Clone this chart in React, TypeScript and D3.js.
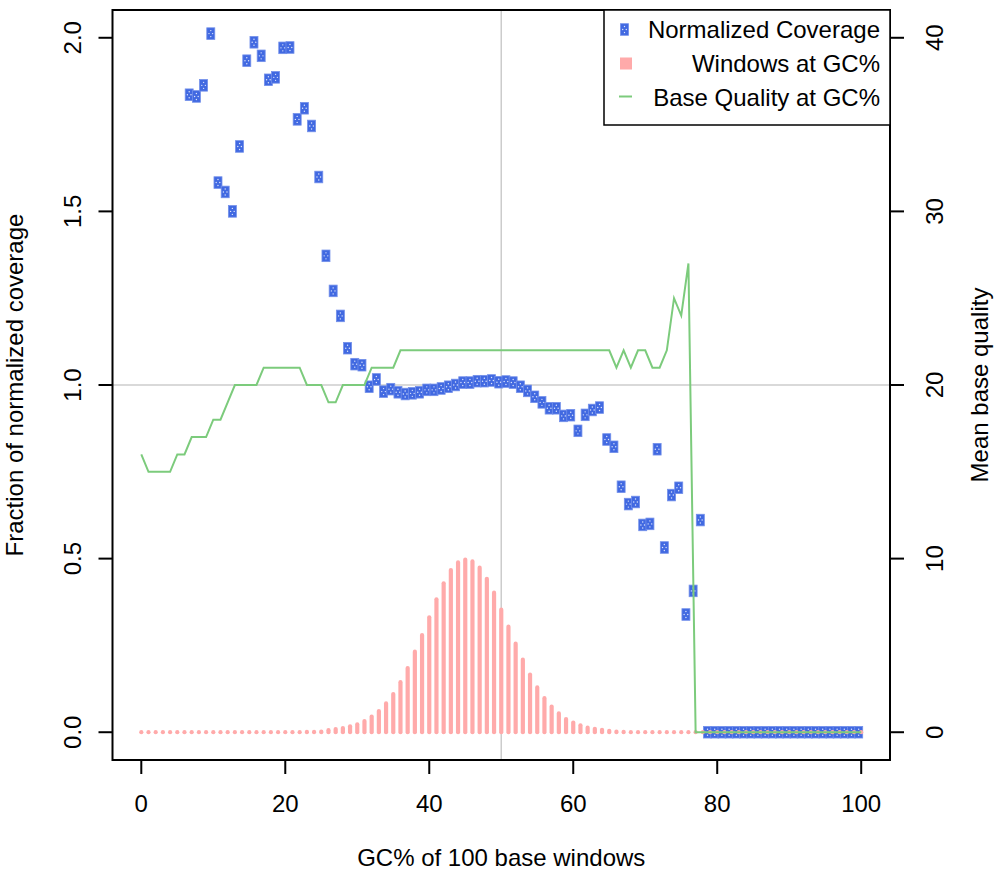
import * as d3 from 'd3';

// GC% bins, 0..100
const gcPercent = [
  0, 1, 2, 3, 4, 5, 6, 7, 8, 9, 10, 11, 12, 13, 14, 15, 16, 17, 18, 19, 20,
  21, 22, 23, 24, 25, 26, 27, 28, 29, 30, 31, 32, 33, 34, 35, 36, 37, 38, 39, 40,
  41, 42, 43, 44, 45, 46, 47, 48, 49, 50, 51, 52, 53, 54, 55, 56, 57, 58, 59, 60,
  61, 62, 63, 64, 65, 66, 67, 68, 69, 70, 71, 72, 73, 74, 75, 76, 77, 78, 79, 80,
  81, 82, 83, 84, 85, 86, 87, 88, 89, 90, 91, 92, 93, 94, 95, 96, 97, 98, 99, 100,
];

// null = no point drawn
const normalizedCoverage = [
  null, null, null, null, null, null, null, 1.836, 1.831, 1.863, 2.012,
  1.583, 1.556, 1.5, 1.687, 1.934, 1.987, 1.948, 1.879, 1.886, 1.971,
  1.972, 1.765, 1.797, 1.746, 1.599, 1.372, 1.271, 1.199, 1.106, 1.06,
  1.057, 0.995, 1.016, 0.981, 0.988, 0.979, 0.974, 0.976, 0.979, 0.986,
  0.986, 0.99, 0.995, 1.0, 1.007, 1.007, 1.011, 1.011, 1.013, 1.008,
  1.01, 1.007, 0.995, 0.983, 0.966, 0.95, 0.933, 0.933, 0.911, 0.913,
  0.868, 0.914, 0.928, 0.935, 0.843, 0.822, 0.707, 0.657, 0.663, 0.597,
  0.6, 0.815, 0.532, 0.683, 0.704, 0.339, 0.407, 0.611, 0, 0,
  0, 0, 0, 0, 0, 0, 0, 0, 0, 0,
  0, 0, 0, 0, 0, 0, 0, 0, 0, 0,
];

const windowsAtGc = [
  0, 0, 0, 0, 0, 0, 0, 0, 0, 0, 0,
  0, 0, 0, 0, 0, 0, 0, 0, 0, 0,
  0, 0, 0.001, 0.001, 0.002, 0.006, 0.009, 0.012, 0.017, 0.023,
  0.032, 0.045, 0.061, 0.083, 0.11, 0.144, 0.185, 0.232, 0.28, 0.331,
  0.383, 0.429, 0.467, 0.489, 0.497, 0.492, 0.474, 0.442, 0.402, 0.353,
  0.304, 0.255, 0.209, 0.166, 0.129, 0.098, 0.074, 0.054, 0.038, 0.028,
  0.02, 0.013, 0.01, 0.007, 0.004, 0.002, 0.001, 0, 0, 0,
  0, 0, 0, 0, 0, 0, 0, 0, 0, 0,
  0, 0, 0, 0, 0, 0, 0, 0, 0, 0,
  0, 0, 0, 0, 0, 0, 0, 0, 0, 0,
];

const baseQuality = [
  16, 15, 15, 15, 15, 16, 16, 17, 17, 17, 18,
  18, 19, 20, 20, 20, 20, 21, 21, 21, 21,
  21, 21, 20, 20, 20, 19, 19, 20, 20, 20,
  20, 21, 21, 21, 21, 22, 22, 22, 22, 22,
  22, 22, 22, 22, 22, 22, 22, 22, 22, 22,
  22, 22, 22, 22, 22, 22, 22, 22, 22, 22,
  22, 22, 22, 22, 22, 21, 22, 21, 22, 22,
  21, 21, 22, 25, 24, 27, 0, 0, 0, 0,
  0, 0, 0, 0, 0, 0, 0, 0, 0, 0,
  0, 0, 0, 0, 0, 0, 0, 0, 0, 0,
];

const xTicks = [0, 20, 40, 60, 80, 100];
const leftTicks = [0, 0.5, 1, 1.5, 2];
const rightTicks = [0, 10, 20, 30, 40];
const legendLabels = ['Normalized Coverage', 'Windows at GC%', 'Base Quality at GC%'];

const WIDTH = 994;
const HEIGHT = 875;
const plot = { left: 112.5, right: 890, top: 10, bottom: 760 };
const FONT = '"Liberation Sans", Arial, Helvetica, sans-serif';
const BLUE = '#4169E1';
const PINK = '#FFAAAA';
const GREEN = '#7CCB7C';
const MARK_DX = -2.5;

function Marker({ cx, cy }: { cx: number; cy: number }) {
  return (
    <g transform={`translate(${cx},${cy})`}>
      <rect x={-4} y={-5.8} width={8} height={11.6} fill={BLUE} stroke="#7390ea" strokeWidth={0.8} />
      <circle cx={0} cy={-3} r={0.7} fill="#dfe6fb" />
      <circle cx={-1.8} cy={0} r={0.7} fill="#dfe6fb" />
      <circle cx={1.8} cy={0} r={0.7} fill="#dfe6fb" />
      <circle cx={0} cy={3} r={0.7} fill="#dfe6fb" />
    </g>
  );
}

export default function App() {
  const x = d3.scaleLinear().domain([-4, 104]).range([plot.left, plot.right]);
  const y = d3.scaleLinear().domain([-0.08, 2.08]).range([plot.bottom, plot.top]);
  const yRight = d3.scaleLinear().domain([-1.6, 41.6]).range([plot.bottom, plot.top]);

  const qualityPath = d3
    .line<number>()
    .x((_, i) => x(gcPercent[i]))
    .y((q) => yRight(q))(baseQuality);

  const legendX = 604;
  const legendRows = [29.5, 63.5, 97.5];

  return (
    <svg
      width={WIDTH}
      height={HEIGHT}
      style={{ position: 'absolute', left: 0, top: 0, display: 'block', background: '#fff' }}
      fontFamily={FONT}
      fontSize={24}
    >
      {/* reference lines */}
      <line x1={x(50)} x2={x(50)} y1={plot.top} y2={plot.bottom} stroke="#cccccc" strokeWidth={1.5} />
      <line x1={plot.left} x2={plot.right} y1={y(1)} y2={y(1)} stroke="#cccccc" strokeWidth={1.5} />

      {/* normalized coverage */}
      {normalizedCoverage.map((v, i) =>
        v === null ? null : <Marker key={'p' + i} cx={x(gcPercent[i]) + MARK_DX} cy={y(v)} />
      )}

      {/* windows at GC */}
      {windowsAtGc.map((v, i) => (
        <line
          key={'w' + i}
          x1={x(gcPercent[i])}
          x2={x(gcPercent[i])}
          y1={y(0)}
          y2={y(v)}
          stroke={PINK}
          strokeWidth={4.2}
          strokeLinecap="round"
        />
      ))}

      {/* base quality */}
      <path d={qualityPath ?? ''} fill="none" stroke={GREEN} strokeWidth={2} />

      {/* frame */}
      <rect
        x={plot.left}
        y={plot.top}
        width={plot.right - plot.left}
        height={plot.bottom - plot.top}
        fill="none"
        stroke="#000"
        strokeWidth={2}
      />

      {/* bottom axis */}
      {xTicks.map((t) => (
        <g key={'x' + t}>
          <line x1={x(t)} x2={x(t)} y1={plot.bottom} y2={plot.bottom + 14} stroke="#000" strokeWidth={2} />
          <text x={x(t)} y={812} textAnchor="middle">{t}</text>
        </g>
      ))}
      <text x={(plot.left + plot.right) / 2} y={866} textAnchor="middle">GC% of 100 base windows</text>

      {/* left axis */}
      {leftTicks.map((t) => (
        <g key={'l' + t}>
          <line x1={plot.left - 14} x2={plot.left} y1={y(t)} y2={y(t)} stroke="#000" strokeWidth={2} />
          <text transform={`translate(73,${y(t)}) rotate(-90)`} textAnchor="middle" dy="0.35em">
            {t.toFixed(1)}
          </text>
        </g>
      ))}
      <text transform={`translate(15,${y(1)}) rotate(-90)`} textAnchor="middle" dy="0.35em">
        Fraction of normalized coverage
      </text>

      {/* right axis */}
      {rightTicks.map((t) => (
        <g key={'r' + t}>
          <line x1={plot.right} x2={plot.right + 14} y1={yRight(t)} y2={yRight(t)} stroke="#000" strokeWidth={2} />
          <text transform={`translate(935,${yRight(t)}) rotate(-90)`} textAnchor="middle" dy="0.35em">
            {t}
          </text>
        </g>
      ))}
      <text transform={`translate(980,${y(1)}) rotate(-90)`} textAnchor="middle" dy="0.35em">
        Mean base quality
      </text>

      {/* legend */}
      <rect x={legendX} y={plot.top} width={plot.right - legendX} height={115} fill="#fff" stroke="#000" strokeWidth={1.5} />
      <Marker cx={624.5} cy={legendRows[0]} />
      <rect x={620} y={legendRows[1] - 6} width={12} height={12} fill={PINK} />
      <line x1={619} x2={632} y1={legendRows[2] - 1} y2={legendRows[2] - 1} stroke={GREEN} strokeWidth={2} />
      {legendLabels.map((label, i) => (
        <text key={label} x={880} y={legendRows[i]} dy="0.35em" textAnchor="end">
          {label}
        </text>
      ))}
    </svg>
  );
}
